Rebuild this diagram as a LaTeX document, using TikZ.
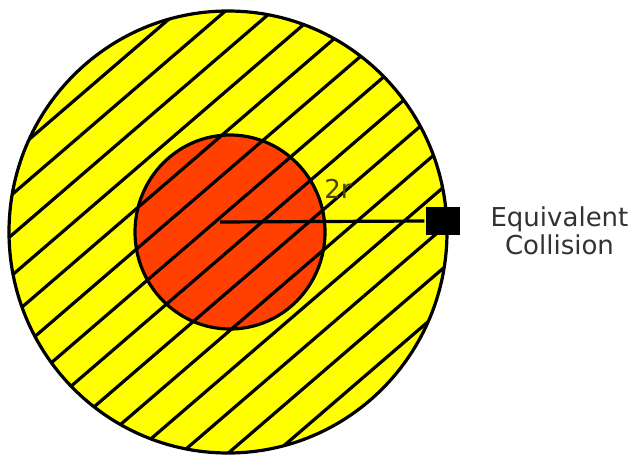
\documentclass[tikz,border=0pt]{standalone}
\usepackage{fontspec}
\setsansfont{DejaVu Sans}
\usetikzlibrary{positioning}
\definecolor{ringc}{RGB}{255,255,0}
\definecolor{corec}{RGB}{255,64,0}
\definecolor{labc}{RGB}{70,70,10}
\definecolor{textc}{RGB}{50,50,50}

\begin{document}
\begin{tikzpicture}[x=1pt, y=-1pt, line width=3.2pt, every node/.style={font=\sffamily\fontsize{26}{28}\selectfont}]
  \useasboundingbox (0,0) rectangle (631,457);
  \coordinate (o) at (228,232);
  \coordinate (c) at (220,222);
  \fill[ringc] (o) ellipse [x radius=219, y radius=221];
  \fill[corec] (230,232) ellipse [x radius=95, y radius=97];
  % hatching over both discs
  \begin{scope}
    \clip (o) ellipse [x radius=219, y radius=221];
    \foreach \k in {-9,...,9}
      \draw ({215+47*\k-300},{222+258}) -- ({215+47*\k+300},{222-258});
  \end{scope}
  \draw (230,232) ellipse [x radius=95, y radius=97];
  \draw (o) ellipse [x radius=219, y radius=221];
  \node[fill=black, inner sep=0, minimum width=34, minimum height=28] (sq) at (443,221) {};
  \draw (c) -- (sq.west);
  \node[labc, inner sep=0] (lr) at (338,189) {2r};
  \node[textc, align=center, right=24pt of sq, yshift=-10pt] (lbl) {Equivalent\\Collision};
\end{tikzpicture}
\end{document}
